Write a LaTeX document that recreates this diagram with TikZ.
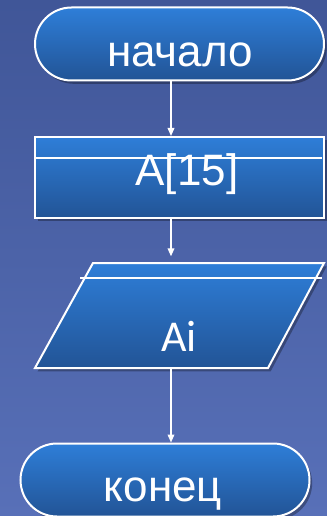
\documentclass[tikz,border=0pt]{standalone}
\usepackage{fontspec}
\setmainfont{Liberation Sans}
\newfontfamily\calibrifont{Carlito}
\usetikzlibrary{shapes.misc,shadows,arrows.meta}

\definecolor{bgtop}{RGB}{64,86,152}
\definecolor{bgbot}{RGB}{88,112,184}
\definecolor{shtop}{RGB}{46,126,216}
\definecolor{shbot}{RGB}{34,84,150}

\tikzset{every picture/.style={line width=0.75pt}}

\begin{document}
\begin{tikzpicture}[x=0.75pt,y=0.75pt,yscale=-1,xscale=1,
  blockfill/.style={draw=white, line width=1.5pt, top color=shtop, bottom color=shbot,
    drop shadow={shadow xshift=2pt, shadow yshift=-2.5pt, opacity=0.3, fill=black}},
  term/.style={blockfill, rounded rectangle, minimum width=216.75pt, minimum height=54.75pt, inner sep=0pt},
  procbox/.style={blockfill, rectangle, minimum width=216.75pt, minimum height=60.75pt, inner sep=0pt},
  txt/.style={text=white, font=\fontsize{33}{36}\selectfont, inner sep=0pt},
  divline/.style={draw=white, line width=1.5pt},
  arr/.style={draw=white, line width=1.1pt, -{Triangle[length=6pt,width=5pt]}}]
  %set diagram size
  \useasboundingbox (0,0) rectangle (327,516);
  \shade[top color=bgtop, bottom color=bgbot] (0,0) rectangle (327,516);

  \coordinate (axis) at (171,0);

  % Terminal start
  \node[term] (begin) at (179.5,44) {};
  \node[txt] (beginlbl) at (180,55) {начало};

  % Array block
  \node[procbox] (arrdecl) at (179.5,177.5) {};
  \draw[divline] (35,158) -- (322,158);
  \node[txt] (arrlbl) at (187,174) {A[15]};

  % Output parallelogram
  \draw[blockfill] (93,263) -- (324,263) -- (268,368) -- (35,368) -- cycle;
  \coordinate (outtop) at (171,263);
  \coordinate (outbot) at (171,368);
  \draw[divline] (80,278) -- (322,278);
  \node[txt, font=\calibrifont\fontsize{33}{36}\selectfont] (outlbl) at (179,336) {Ai};

  % Terminal end
  \node[term] (finish) at (165,480) {};
  \node[txt] (finishlbl) at (163,494) {конец};

  % Arrows
  \draw[arr] (begin.south -| axis) -- (arrdecl.north -| axis);
  \draw[arr, shorten >=5pt] (arrdecl.south -| axis) -- (outtop);
  \draw[arr] (outbot) -- (finish.north -| axis);

\end{tikzpicture}
\end{document}
